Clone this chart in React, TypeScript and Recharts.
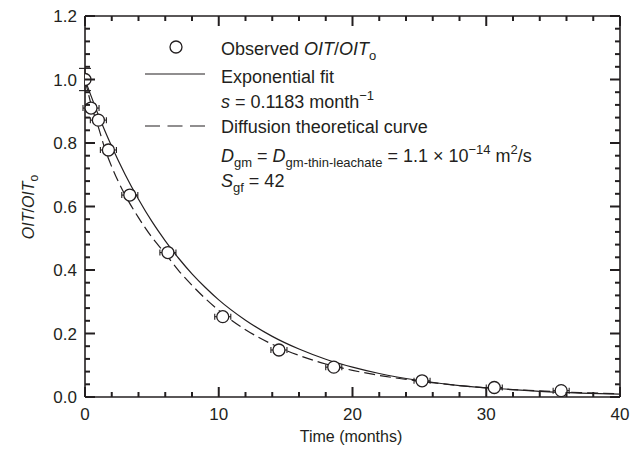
import React from 'react';
import { ComposedChart, Line, Scatter, ErrorBar, XAxis, YAxis } from 'recharts';

// observed OIT ratio (with error bars)
const obsTime = [0, 0.45, 1.0, 1.75, 3.35, 6.2, 10.3, 14.5, 18.6, 25.2, 30.6, 35.6];
const obsRatio = [1.0, 0.91, 0.872, 0.778, 0.636, 0.455, 0.253, 0.148, 0.094, 0.051, 0.03, 0.02];
const obsTimeErr = [0, 0.6, 0.6, 0.6, 0.6, 0.6, 0.6, 0.6, 0.6, 0.6, 0.6, 0.6];
const obsRatioErr = [0.035, 0, 0, 0, 0, 0, 0, 0, 0, 0, 0, 0];

// curves
const curveTime = [0, 0.5, 1, 1.5, 2, 3, 4, 5, 6, 7, 8, 9, 10, 12, 14, 16, 18, 20, 22, 25, 28, 31, 34, 37, 40];
const expFit = [1.0, 0.943, 0.888, 0.837, 0.789, 0.701, 0.623, 0.553, 0.492, 0.437, 0.388, 0.345, 0.306, 0.242, 0.191, 0.151, 0.119, 0.094, 0.074, 0.052, 0.036, 0.026, 0.018, 0.0125, 0.009];
const diffusion = [1.0, 0.915, 0.85, 0.78, 0.725, 0.636, 0.565, 0.503, 0.452, 0.398, 0.352, 0.31, 0.273, 0.212, 0.166, 0.131, 0.104, 0.084, 0.068, 0.05, 0.036, 0.026, 0.019, 0.014, 0.01];

const xMajor = [0, 10, 20, 30, 40];
const yMajor = [0, 0.2, 0.4, 0.6, 0.8, 1.0, 1.2];

const INK = '#231f20';
const FONT = '"Liberation Sans", Arial, Helvetica, sans-serif';

const obsData = obsTime.map((x, i) => ({
  x,
  y: obsRatio[i],
  ex: obsTimeErr[i] || undefined,
  ey: obsRatioErr[i] || undefined,
}));
const fitData = curveTime.map((x, i) => ({ x, y: expFit[i] }));
const diffData = curveTime.map((x, i) => ({ x, y: diffusion[i] }));

const xTicks: number[] = [];
for (let v = 0; v <= 40; v += 2) xTicks.push(v);
const yTicks: number[] = [];
for (let i = 0; i <= 30; i++) yTicks.push(+(i * 0.04).toFixed(2));

const isMajorX = (v: number) => xMajor.includes(v);
const isMajorY = (v: number) => yMajor.some((m) => Math.abs(m - v) < 1e-6);

// inward tick marks, labels only on the major ones
const BottomTick = (p: any) => {
  const major = isMajorX(p.payload.value);
  return (
    <g>
      <path d={`M${p.x},${p.y}V${p.y - (major ? 10 : 5)}`} stroke={INK} strokeWidth={2} fill="none" />
      {major && (
        <text x={p.x} y={p.y + 23} textAnchor="middle" fontSize={17} fill={INK} fontFamily={FONT}>
          {p.payload.value}
        </text>
      )}
    </g>
  );
};

const TopTick = (p: any) => {
  const major = isMajorX(p.payload.value);
  return <path d={`M${p.x},${p.y}V${p.y + (major ? 10 : 5)}`} stroke={INK} strokeWidth={2} fill="none" />;
};

const LeftTick = (p: any) => {
  const major = isMajorY(p.payload.value);
  return (
    <g>
      <path d={`M${p.x},${p.y}H${p.x + (major ? 10 : 5)}`} stroke={INK} strokeWidth={2} fill="none" />
      {major && (
        <text x={p.x - 8} y={p.y + 6} textAnchor="end" fontSize={17} fill={INK} fontFamily={FONT}>
          {p.payload.value.toFixed(1)}
        </text>
      )}
    </g>
  );
};

const RightTick = (p: any) => {
  const major = isMajorY(p.payload.value);
  return <path d={`M${p.x},${p.y}H${p.x - (major ? 10 : 5)}`} stroke={INK} strokeWidth={2} fill="none" />;
};

const Ring = (p: any) => (
  <circle cx={p.cx} cy={p.cy} r={6} fill="#fff" stroke={INK} strokeWidth={1.3} />
);

const App = () => {
  const axisLine = { stroke: INK, strokeWidth: 1.6 };
  return (
    <div style={{ position: 'absolute', left: 0, top: 0, width: 641, height: 450, background: '#fff', fontFamily: FONT }}>
      <ComposedChart width={641} height={450} margin={{ top: 15, right: 20, bottom: 0, left: 0 }}>
        <XAxis xAxisId="b" dataKey="x" type="number" domain={[0, 40]} ticks={xTicks} interval={0}
          height={53} tickSize={0} tickMargin={0} tickLine={false} axisLine={axisLine} tick={<BottomTick />}
          allowDataOverflow />
        <XAxis xAxisId="t" orientation="top" dataKey="x" type="number" domain={[0, 40]} ticks={xTicks} interval={0}
          height={1} tickSize={0} tickMargin={0} tickLine={false} axisLine={axisLine} tick={<TopTick />}
          allowDataOverflow />
        <YAxis yAxisId="l" type="number" domain={[0, 1.2]} ticks={yTicks} interval={0}
          width={85} tickSize={0} tickMargin={0} tickLine={false} axisLine={axisLine} tick={<LeftTick />}
          allowDataOverflow />
        <YAxis yAxisId="r" orientation="right" type="number" domain={[0, 1.2]} ticks={yTicks} interval={0}
          width={1} tickSize={0} tickMargin={0} tickLine={false} axisLine={axisLine} tick={<RightTick />}
          allowDataOverflow />
        <Line xAxisId="b" yAxisId="l" data={fitData} dataKey="y" type="monotone" stroke={INK}
          strokeWidth={1.2} dot={false} isAnimationActive={false} />
        <Line xAxisId="b" yAxisId="l" data={diffData} dataKey="y" type="monotone" stroke={INK}
          strokeWidth={1.2} strokeDasharray="11 5" dot={false} isAnimationActive={false} />
        <Scatter xAxisId="b" yAxisId="l" data={obsData} dataKey="y" shape={<Ring />} isAnimationActive={false}>
          <ErrorBar dataKey="ex" direction="x" width={3} stroke={INK} strokeWidth={1.1} />
          <ErrorBar dataKey="ey" direction="y" width={6} stroke={INK} strokeWidth={1.1} />
        </Scatter>
      </ComposedChart>

      <svg width={641} height={450} style={{ position: 'absolute', left: 0, top: 0, pointerEvents: 'none' }}
        fontFamily={FONT} fill={INK}>
        {/* legend */}
        <circle cx={176} cy={47} r={6} fill="#fff" stroke={INK} strokeWidth={1.3} />
        <line x1={145} x2={205} y1={74} y2={74} stroke={INK} strokeWidth={1.2} />
        <line x1={145} x2={205} y1={126} y2={126} stroke={INK} strokeWidth={1.2} strokeDasharray="15 7.5" />
        <g fontSize={18} style={{ whiteSpace: 'pre' }}>
          <text x={221} y={55}>
            Observed <tspan fontStyle="italic">OIT</tspan>/<tspan fontStyle="italic">OIT</tspan>
            <tspan fontSize={13} dy={5}>o</tspan>
          </text>
          <text x={221} y={83}>Exponential fit</text>
          <text x={221} y={108}>
            <tspan fontStyle="italic">s</tspan> = 0.1183 month<tspan fontSize={13} dy={-8}>−1</tspan>
          </text>
          <text x={221} y={133}>Diffusion theoretical curve</text>
          <text x={221} y={162}>
            <tspan fontStyle="italic">D</tspan>
            <tspan fontSize={13} dy={5}>gm</tspan>
            <tspan dy={-5}> = </tspan>
            <tspan fontStyle="italic">D</tspan>
            <tspan fontSize={13} dy={5}>gm-thin-leachate</tspan>
            <tspan dy={-5}> = 1.1 × 10</tspan>
            <tspan fontSize={13} dy={-8}>−14</tspan>
            <tspan dy={8}> m</tspan>
            <tspan fontSize={13} dy={-8}>2</tspan>
            <tspan dy={8}>/s</tspan>
          </text>
          <text x={221} y={187}>
            <tspan fontStyle="italic">S</tspan>
            <tspan fontSize={13} dy={5}>gf</tspan>
            <tspan dy={-5}> = 42</tspan>
          </text>
        </g>
        {/* axis titles */}
        <text x={351} y={442} textAnchor="middle" fontSize={16}>Time (months)</text>
        <text transform="translate(34,207) rotate(-90)" textAnchor="middle" fontSize={16}>
          <tspan fontStyle="italic">OIT</tspan>/<tspan fontStyle="italic">OIT</tspan>
          <tspan fontSize={12} dy={4}>o</tspan>
        </text>
      </svg>
    </div>
  );
};

export default App;
